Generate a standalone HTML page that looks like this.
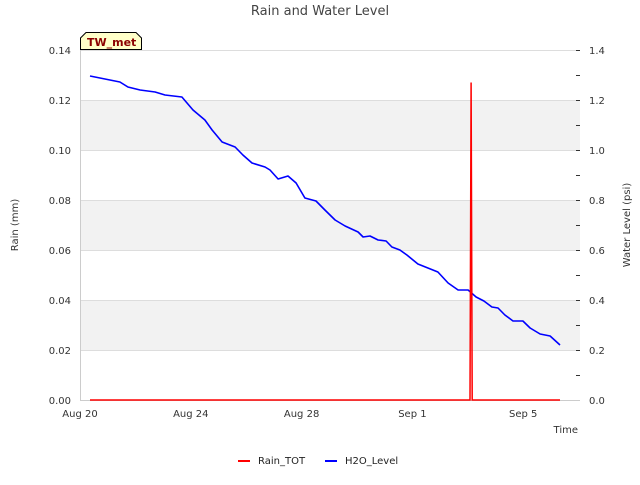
<!DOCTYPE html>
<html><head><meta charset="utf-8"><style>
body{margin:0;background:#fff;font-family:"Liberation Sans","DejaVu Sans",sans-serif}
</style></head><body>
<svg id="c" width="640" height="480" xmlns="http://www.w3.org/2000/svg" font-family="DejaVu Sans, Liberation Sans, sans-serif">
<text x="320" y="15" text-anchor="middle" font-size="13" fill="#444">Rain and Water Level</text>
<g id="bands"></g>
<g id="grid"></g>
<g id="axes"></g>
<g id="series"></g>
<g>
<path d="M80.5,49.5 L80.5,38 L86,32.5 L136,32.5 L141.5,38 L141.5,49.5 Z" fill="#ffffc8" stroke="#000" stroke-width="1"/>
<text x="87" y="46" font-size="11" font-weight="bold" fill="#8b0000">TW_met</text>
</g>
<text x="18" y="225" font-size="10" fill="#333" text-anchor="middle" transform="rotate(-90 18 225)">Rain (mm)</text>
<text x="630" y="225" font-size="10" fill="#333" text-anchor="middle" transform="rotate(-90 630 225)">Water Level (psi)</text>
<text x="578" y="433" font-size="10" fill="#333" text-anchor="end">Time</text>
<g>
<line x1="238" y1="461" x2="250" y2="461" stroke="#f00" stroke-width="2"/>
<text x="258" y="464" font-size="10" fill="#222">Rain_TOT</text>
<line x1="325" y1="461" x2="337" y2="461" stroke="#00f" stroke-width="2"/>
<text x="345" y="464" font-size="10" fill="#222">H2O_Level</text>
</g>
</svg>
<script>
const xTickLabels=["Aug 20","Aug 24","Aug 28","Sep 1","Sep 5"];
const xTickDays=[0,4,8,12,16];
const leftTicks=[0,0.02,0.04,0.06,0.08,0.10,0.12,0.14];
const rightTicks=[0,0.2,0.4,0.6,0.8,1.0,1.2,1.4];
const h2oDays=[0.36,1.44,1.73,2.17,2.71,3.07,3.68,4.08,4.51,4.77,5.13,5.6,5.88,6.21,6.68,6.86,7.15,7.51,7.8,8.12,8.52,8.84,9.21,9.57,10.04,10.22,10.47,10.76,11.05,11.26,11.55,11.8,12.2,12.56,12.92,13.29,13.65,14.01,14.3,14.58,14.87,15.09,15.34,15.63,15.99,16.25,16.61,16.97,17.33];
const h2oLevel=[1.296,1.272,1.252,1.24,1.232,1.22,1.212,1.16,1.12,1.08,1.032,1.012,0.98,0.948,0.932,0.92,0.884,0.896,0.868,0.808,0.796,0.76,0.72,0.696,0.672,0.652,0.656,0.64,0.636,0.612,0.6,0.58,0.544,0.528,0.512,0.468,0.44,0.44,0.412,0.396,0.372,0.368,0.34,0.316,0.316,0.288,0.264,0.256,0.22];
const rainDays=[0.36,14.08,14.12,14.16,17.33];
const rainTot=[0,0,0.127,0,0];
const L=80,R=580,T=50,B=400;
const x=d=>L+d*27.7;
const yl=v=>B-v/0.14*(B-T);
const yr=v=>B-v/1.4*(B-T);
const NS="http://www.w3.org/2000/svg";
function mk(tag,attrs,parent,txt){const e=document.createElementNS(NS,tag);for(const k in attrs)e.setAttribute(k,attrs[k]);if(txt!==undefined)e.textContent=txt;document.getElementById(parent).appendChild(e);return e;}
for(let i=0;i<leftTicks.length-1;i+=2){
 const e=mk('rect',{x:L,y:yl(leftTicks[i+2]||0.14),width:R-L,height:yl(leftTicks[i+1])-yl(leftTicks[i+2]||0.14),fill:'#f2f2f2'},'bands');
 
 
}
leftTicks.forEach(v=>{
 const g=mk('line',{x1:L,x2:R,y1:yl(v)+0.5,y2:yl(v)+0.5,stroke:'#ddd'},'grid');
 
 
 const t=mk('text',{x:L-9,y:yl(v)+4,'font-size':10,fill:'#333','text-anchor':'end'},'axes',v.toFixed(2));
 
 
});
rightTicks.forEach((v,i)=>{
 const t=mk('text',{x:R+9,y:yr(v)+4,'font-size':10,fill:'#333'},'axes',v.toFixed(1));
 
 
 mk('line',{x1:R-4,x2:R,y1:yr(v)+0.5,y2:yr(v)+0.5,stroke:'#333'},'axes');
 if(i<rightTicks.length-1) mk('line',{x1:R-4,x2:R,y1:yr(v+0.1)+0.5,y2:yr(v+0.1)+0.5,stroke:'#333'},'axes');
});
mk('line',{x1:L+0.5,x2:L+0.5,y1:T,y2:B,stroke:'#ccc'},'axes');
mk('line',{x1:L,x2:R,y1:B+0.5,y2:B+0.5,stroke:'#ccc'},'axes');
xTickDays.forEach((d,i)=>{
 const t=mk('text',{x:x(d),y:B+17,'font-size':10,fill:'#333','text-anchor':'middle'},'axes',xTickLabels[i]);
 
 
});
const p=h2oDays.map((d,i)=>(i?'L':'M')+x(d).toFixed(1)+','+yr(h2oLevel[i]).toFixed(1)).join(' ');
const h=mk('path',{d:p,fill:'none',stroke:'#00f','stroke-width':1.6,'stroke-linejoin':'round'},'series');


const rp=rainDays.map((d,i)=>(i?'L':'M')+x(d).toFixed(1)+','+yl(rainTot[i]).toFixed(1)).join(' ');
const r=mk('path',{d:rp,fill:'none',stroke:'#f00','stroke-width':1.5},'series');


</script>
</body></html>
